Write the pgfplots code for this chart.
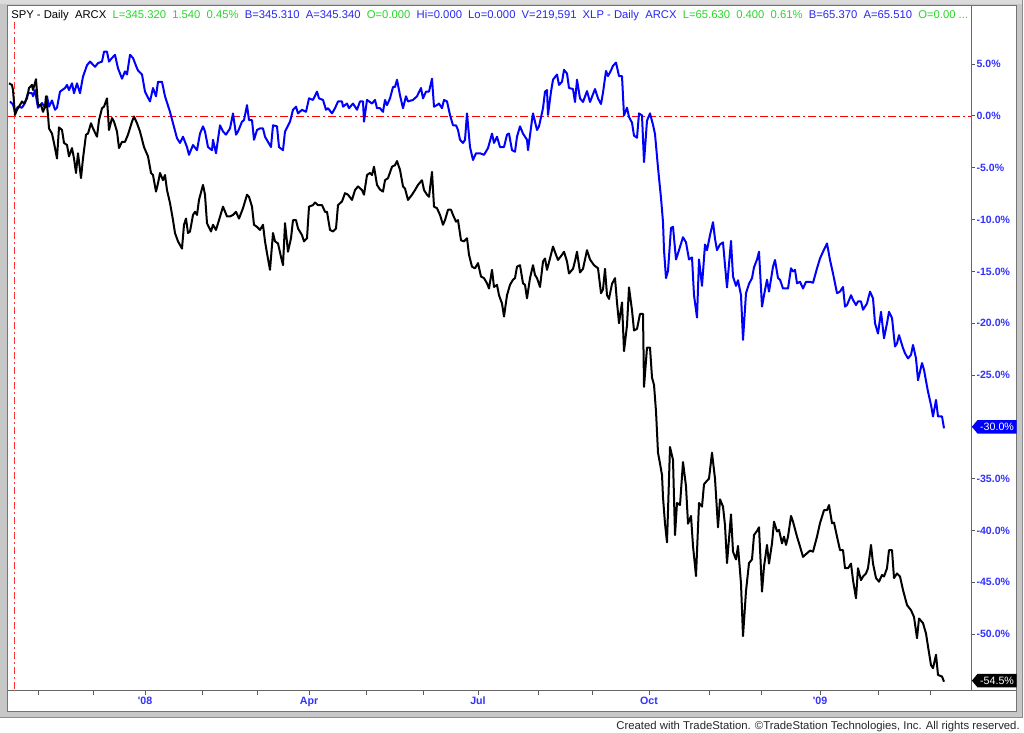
\documentclass[border=0pt]{standalone}
\usepackage{fontspec}
\setmainfont{Liberation Sans}[Ligatures=TeXOff]
\usepackage{pgfplots}
\pgfplotsset{compat=1.18}
\usetikzlibrary{shapes.symbols}
\definecolor{hgreen}{RGB}{40,215,40}
\definecolor{hblue}{RGB}{40,40,240}
\definecolor{tblue}{RGB}{50,50,255}
\definecolor{sblue}{RGB}{0,0,255}
\definecolor{refred}{RGB}{255,0,0}
\newcommand\hsp{\hspace*{0.55em}}
\begin{document}
\begin{tikzpicture}
\begin{scope}[x=0.75pt,y=-0.75pt]
\useasboundingbox (0,0) rectangle (1024,732);
\fill[white] (0,0) rectangle (1024,732);
\fill[black!22] (0,0) rectangle (1022,717);
\fill[black!14] (0,0) rectangle (1022,4);
\fill[white] (8,6) rectangle (1016,711);
\draw[black!55, line width=0.75pt] (7.5,5.5) rectangle (1016.5,711.5);
\draw[black!45, line width=0.75pt] (0,717) -- (1022,717) -- (1022,0);
\end{scope}
\begin{axis}[
  at={(6pt,-517.875pt)}, anchor=south west,
  width=722.25pt, height=501.375pt, scale only axis,
  xmin=8, xmax=971, ymin=-55.45, ymax=9.07,
  axis x line*=bottom, axis y line*=right,
  axis line style={draw=none},
  clip=false,
  tick align=outside,
  major tick length=3pt, minor tick length=3pt,
  every tick/.style={draw=black!65, line width=0.75pt},
  xtick={145,309,478,649,820},
  xticklabels={{\char39 08},Apr,Jul,Oct,{\char39 09}},
  minor xtick={38,93,202,257,366,423,538,592,709,761,878,930},
  xticklabel style={font=\bfseries\fontsize{8}{9}\selectfont, text=tblue, inner sep=1.5pt},
  ytick={-50,-45,-40,-35,-30,-25,-20,-15,-10,-5,0,5},
  yticklabels={-50.0\%,-45.0\%,-40.0\%,-35.0\%,{},-25.0\%,-20.0\%,-15.0\%,-10.0\%,-5.0\%,0.0\%,5.0\%},
  yticklabel style={font=\bfseries\fontsize{7.9}{9}\selectfont, text=tblue, anchor=west, inner sep=0pt, xshift=1pt},
]
% reference lines
\addplot[color=refred, line width=1.2pt, dash pattern=on 6pt off 2.25pt on 1.5pt off 2.25pt] coordinates {(8,-0.05) (971,-0.05)};
\addplot[color=refred!80, line width=0.9pt, dash pattern=on 5.25pt off 2.25pt on 1.5pt off 2.25pt] coordinates {(14.7,9.07) (14.7,-55.45)};
% XLP (blue)
\addplot[sblue, line width=1.5pt, line join=round] coordinates {
(10,1.4) (13,1.1) (15,0.4) (18,0.9) (22,0.8) (25,1.25) (28,2.2) (32,2.2) (33,1.9) (35,2.5) (38,0.8) (42,1.25) (45,0.8) (47,1.9) (49,0.9) (52,1.5) (55,0.6) (57,0.8) (60,2.35) (65,2.7) (67,3.0) (69,2.5) (72,3.15) (74,2.2) (77,3.15) (80,2.2) (83,3.8) (87,4.9) (90,5.25) (95,4.75) (98,5.1) (102,5.25) (104,6.2) (107,6.2) (109,5.25) (112,5.6) (115,5.9) (118,4.6) (122,3.6) (125,4.3) (127,4.0) (130,5.9) (133,5.6) (137,4.6) (138,4.4) (142,4.0) (145,2.35) (150,1.4) (153,2.7) (156,1.9) (158,3.3) (162,3.3) (165,1.9) (170,0.4) (173,-0.7) (177,-2.15) (180,-2.6) (183,-2.0) (187,-3.0) (189,-3.75)
(193,-2.8) (197,-3.3) (200,-1.7) (203,-1.0) (205,-1.5) (208,-3.0) (212,-3.3) (213,-2.3) (216,-3.6) (220,-0.9) (223,-1.5) (226,-1.8) (230,-1.2) (233,0.25) (236,-1.8) (238,-1.5) (242,-0.55) (244,-0.4) (247,1.05) (249,-0.4) (252,-0.4) (254,-2.3) (257,-1.35) (260,-1.2) (263,-1.2) (265,-2.0) (268,-2.5) (271,-3.0) (273,-0.9) (277,-1.0) (279,-3.0) (283,-3.3) (285,-1.5) (290,-0.55) (293,0.6) (296,0.9) (298,0.25) (302,0.6) (306,0.4) (309,1.7) (313,1.55) (317,2.35) (319,1.7) (323,1.55) (326,0.6) (328,0.75) (332,0.25) (335,0.75) (338,1.4) (342,1.4) (343,0.9) (347,1.2) (349,0.75) (353,1.2) (357,0.6) (360,1.4) (363,1.4) (364,-0.55) (367,1.55) (372,1.2) (375,1.55) (377,0.75)
(380,0.75) (383,0.4) (385,1.55) (387,1.05) (390,1.7) (393,2.8) (395,2.8) (397,3.5) (400,2.0) (403,0.75) (406,1.9) (408,1.4) (413,1.55) (417,1.9) (421,2.7) (423,1.7) (426,2.35) (429,2.35) (432,3.6) (434,0.9) (437,1.05) (439,1.2) (442,0.75) (444,1.55) (447,1.4) (450,0.1) (453,-0.9) (456,-0.9) (458,-1.35) (460,-2.3) (463,-2.6) (465,-2.3) (467,0.25) (470,-3.0) (473,-4.25) (476,-3.6) (480,-3.6) (484,-3.75) (488,-3.1) (492,-1.7) (494,-2.6) (497,-2.0) (500,-3.0) (504,-3.0) (507,-1.8) (509,-1.7) (512,-3.3) (515,-3.45) (517,-2.0) (520,-1.0) (523,-1.7) (527,-2.3) (528,-3.3) (532,-0.4) (533,0.25) (537,-1.35) (539,-1.0) (543,0.75) (545,2.35) (547,2.5) (548,0.1) (551,2.35) (553,3.5) (557,4.0) (559,3.0) (562,3.3) (564,4.45) (567,4.1) (569,2.7)
(573,2.6) (575,1.35) (577,3.5) (580,1.7) (583,1.35) (587,2.4) (590,1.35) (595,2.6) (598,1.7) (601,1.15) (603,2.25) (606,4.35) (608,3.85) (611,4.4) (613,4.85) (616,5.15) (619,3.85) (622,3.85) (624,0.05) (627,0.8) (629,-0.1) (632,-0.65) (634,-1.9) (637,-2.1) (639,0.25) (642,0.05) (644,-4.45) (647,-0.45) (650,0.25) (653,-0.85) (655,-1.75) (658,-5.0) (661,-7.9) (663,-10.25) (664,-12.95) (666,-15.65) (668,-14.95) (671,-10.8) (673,-10.7) (676,-13.85) (679,-12.95) (683,-11.7) (686,-12.2) (689,-13.85) (692,-13.65) (694,-17.3) (697,-19.45) (699,-13.85) (702,-16.4) (705,-12.4) (707,-12.95) (710,-11.5) (713,-10.25) (715,-11.85) (717,-12.95) (720,-12.4) (723,-12.2) (725,-14.4) (727,-16.55) (731,-12.05) (733,-15.5) (736,-16.4) (738,-15.85) (741,-17.3) (743,-21.6) (746,-17.1) (749,-16.2) (752,-15.65) (754,-14.6) (757,-13.85) (759,-13.1)
(762,-18.4) (764,-17.3) (767,-15.8) (769,-16.95) (773,-14.55) (775,-13.9) (778,-15.65) (780,-15.8) (783,-16.65) (788,-16.65) (791,-14.7) (793,-15.0) (795,-14.85) (797,-16.15) (800,-16.0) (803,-16.65) (806,-16.0) (810,-16.0) (813,-16.1) (817,-14.7) (820,-13.75) (823,-13.1) (827,-12.3) (830,-13.9) (833,-15.2) (837,-17.1) (840,-16.95) (843,-16.5) (845,-18.4) (847,-18.25) (851,-17.3) (853,-17.75) (856,-18.25) (858,-17.9) (861,-17.9) (863,-18.7) (867,-18.1) (870,-16.95) (873,-17.6) (875,-20.0) (878,-21.0) (881,-18.9) (884,-21.45) (887,-20.0) (889,-18.9) (892,-19.5) (895,-22.25) (897,-21.95) (899,-21.15) (903,-22.4) (905,-22.9) (908,-23.4) (911,-23.05) (913,-22.1) (916,-23.4) (918,-25.5) (922,-23.85) (924,-24.5) (927,-26.1) (928,-26.6) (931,-27.9) (933,-29.0) (936,-27.4) (938,-29.0) (942,-29.0) (944,-30.15)
};
% SPY (black)
\addplot[black, line width=1.5pt, line join=round] coordinates {
(9,3.15) (12,3.0) (13,2.5) (15,0.1) (17,0.6) (19,0.9) (22,1.4) (24,1.2) (27,1.7) (29,2.7) (32,3.0) (33,2.5) (36,3.55) (38,1.05) (41,1.05) (43,0.4) (45,0.9) (46,1.9) (48,0.1) (49,-1.2) (52,-1.7) (54,-2.6) (57,-4.1) (59,-1.1) (62,-1.35) (64,-2.6) (67,-2.8) (69,-3.9) (72,-3.1) (74,-4.1) (76,-5.5) (78,-3.6) (81,-6.0) (83,-4.1) (86,-1.8) (88,-1.7) (91,-0.7) (93,-1.2) (97,-2.0) (99,-0.4) (102,0.75) (104,0.9) (107,1.7) (109,-1.35) (112,-0.2) (114,-0.55) (117,-1.5) (119,-3.1) (122,-2.5) (125,-2.5) (128,-1.8) (132,-0.55) (134,-0.05) (137,-0.7) (140,-1.5) (144,-3.0) (148,-3.9) (151,-5.5) (153,-5.7) (156,-7.3) (158,-6.5) (160,-5.5) (163,-6.2) (165,-5.7) (167,-7.15) (170,-8.4) (173,-10.05) (175,-11.3) (178,-12.1) (182,-12.8) (184,-10.5) (186,-9.9) (188,-11.3)
(190,-11.15) (193,-9.55) (195,-9.25) (197,-9.55) (199,-8.1) (203,-6.65) (205,-7.6) (207,-10.35) (211,-11.15) (213,-10.5) (216,-11.0) (219,-10.05) (223,-8.75) (227,-9.7) (230,-9.7) (233,-9.55) (236,-9.25) (239,-9.9) (243,-8.9) (247,-7.6) (249,-7.8) (252,-8.75) (254,-10.5) (257,-10.7) (260,-11.0) (263,-10.5) (265,-12.1) (267,-13.25) (270,-14.85) (273,-11.3) (275,-12.1) (278,-12.3) (281,-13.6) (283,-14.4) (285,-10.35) (288,-13.1) (291,-11.8) (293,-10.05) (296,-10.05) (298,-10.85) (302,-11.5) (304,-12.1) (307,-11.8) (309,-8.75) (313,-8.6) (315,-8.35) (318,-8.6) (322,-8.6) (325,-9.25) (327,-9.25) (330,-11.0) (333,-11.15) (336,-10.85) (338,-8.6) (342,-8.25) (345,-7.45) (348,-7.6) (352,-8.1) (355,-7.15) (358,-6.8) (362,-7.15) (364,-7.6) (367,-5.7) (370,-5.5) (372,-5.7) (374,-4.9) (377,-6.65)
(380,-7.1) (383,-7.3) (385,-6.2) (388,-6.0) (392,-4.9) (395,-4.75) (397,-4.35) (400,-5.2) (403,-6.8) (405,-7.0) (408,-8.1) (412,-7.6) (415,-7.15) (418,-6.65) (422,-6.2) (424,-7.15) (427,-7.6) (429,-7.8) (432,-5.4) (434,-8.75) (437,-8.9) (440,-9.55) (443,-10.5) (445,-10.05) (448,-9.05) (451,-9.05) (453,-9.55) (456,-10.2) (458,-10.05) (461,-12.0) (464,-12.1) (467,-11.8) (469,-13.4) (472,-14.55) (475,-14.7) (478,-14.2) (481,-15.5) (484,-15.65) (487,-16.15) (489,-16.65) (492,-14.85) (494,-16.5) (497,-16.3) (499,-17.3) (502,-18.1) (504,-19.35) (507,-17.3) (510,-16.3) (513,-15.8) (515,-15.65) (517,-14.55) (520,-14.4) (523,-16.15) (525,-16.3) (527,-17.6) (530,-15.65) (533,-14.4) (535,-15.35) (537,-15.65) (540,-16.5) (543,-14.05) (545,-13.75) (547,-14.85) (550,-13.75) (553,-12.6) (556,-13.4) (558,-13.9) (562,-13.4) (564,-13.1) (567,-14.05) (569,-15.2)
(573,-14.75) (575,-14.0) (577,-13.1) (580,-15.1) (583,-14.75) (587,-12.95) (590,-13.85) (594,-14.4) (598,-14.7) (601,-17.1) (603,-16.75) (605,-14.75) (607,-17.3) (609,-17.65) (612,-16.2) (615,-15.65) (617,-18.0) (619,-20.0) (622,-18.0) (624,-22.7) (627,-20.2) (629,-16.55) (632,-18.75) (634,-20.7) (637,-20.55) (640,-19.1) (643,-19.1) (644,-26.15) (647,-22.35) (650,-22.35) (652,-25.25) (654,-25.95) (656,-28.5) (658,-32.5) (660,-33.55) (662,-34.65) (663,-36.8) (665,-39.35) (667,-41.15) (670,-31.95) (673,-33.2) (675,-40.45) (677,-37.35) (680,-37.55) (683,-33.4) (686,-35.75) (688,-39.35) (691,-38.6) (693,-41.5) (696,-44.4) (699,-37.35) (702,-37.7) (704,-35.55) (707,-35.2) (709,-35.0) (712,-32.5) (715,-35.0) (718,-39.7) (720,-37.0) (723,-37.7) (725,-39.5) (727,-43.15) (731,-38.45) (733,-42.05) (736,-42.8) (738,-41.5) (741,-45.15) (743,-50.2) (746,-45.85) (749,-43.15) (752,-42.8) (754,-40.45) (757,-40.05) (759,-39.7)
(762,-45.9) (764,-43.5) (767,-41.4) (769,-43.2) (772,-41.25) (774,-39.15) (777,-40.1) (779,-39.95) (782,-41.25) (784,-40.6) (786,-41.4) (788,-40.6) (791,-38.6) (793,-39.15) (797,-40.6) (800,-41.55) (803,-42.55) (807,-42.2) (810,-41.95) (813,-42.05) (817,-40.6) (820,-39.3) (824,-38.05) (827,-38.05) (829,-37.55) (832,-39.3) (834,-39.25) (837,-40.6) (840,-41.9) (843,-41.9) (845,-43.65) (848,-43.65) (851,-43.2) (853,-44.8) (856,-46.55) (858,-43.65) (861,-44.8) (863,-44.45) (866,-44.15) (868,-43.65) (871,-41.4) (873,-43.2) (876,-44.6) (879,-44.95) (882,-44.3) (884,-44.45) (887,-43.65) (889,-41.9) (892,-41.9) (894,-44.6) (897,-44.15) (900,-44.45) (903,-45.75) (907,-47.2) (911,-47.7) (914,-48.35) (917,-50.4) (919,-48.5) (923,-48.95) (926,-49.95) (928,-51.2) (931,-53.0) (933,-53.3) (936,-52.0) (938,-53.95) (942,-54.1) (944,-54.6)
};
\node[signal, signal to=west, signal pointer angle=100, fill=sblue, text=white, anchor=west,
  font=\fontsize{8}{9}\selectfont, inner xsep=2pt, inner ysep=1.2pt, minimum height=10.1pt] at (axis cs:971.5,-30) {-30.0\%};
\node[signal, signal to=west, signal pointer angle=100, fill=black, text=white, anchor=west,
  font=\fontsize{8}{9}\selectfont, inner xsep=2pt, inner ysep=1.2pt, minimum height=10.1pt] at (axis cs:971.5,-54.5) {-54.5\%};
\end{axis}
\begin{scope}[x=0.75pt,y=-0.75pt]
\draw[black!60, line width=0.75pt] (971,6) -- (971,690.5);
\draw[black!60, line width=0.75pt] (8,690.5) -- (1016,690.5);
\node[anchor=base west, inner sep=0pt, font=\fontsize{8.45}{10}\selectfont] at (11,18)
 {\textcolor{black}{SPY - Daily\hsp ARCX}\hsp\textcolor{hgreen}{L=345.320\hsp 1.540\hsp 0.45\%}\hsp\textcolor{hblue}{B=345.310\hsp A=345.340}\hsp\textcolor{hgreen}{O=0.000}\hsp\textcolor{hblue}{Hi=0.000\hsp Lo=0.000\hsp V=219,591\hsp XLP - Daily\hsp ARCX}\hsp\textcolor{hgreen}{L=65.630\hsp 0.400\hsp 0.61\%}\hsp\textcolor{hblue}{B=65.370\hsp A=65.510}\hsp\textcolor{hgreen}{O=0.00 ...}};
\node[anchor=base east, inner sep=0pt, font=\fontsize{8.5}{10}\selectfont, text=black!85] at (1020,729)
 {Created with TradeStation. \textcopyright TradeStation Technologies, Inc. All rights reserved.};
\end{scope}
\end{tikzpicture}
\end{document}
